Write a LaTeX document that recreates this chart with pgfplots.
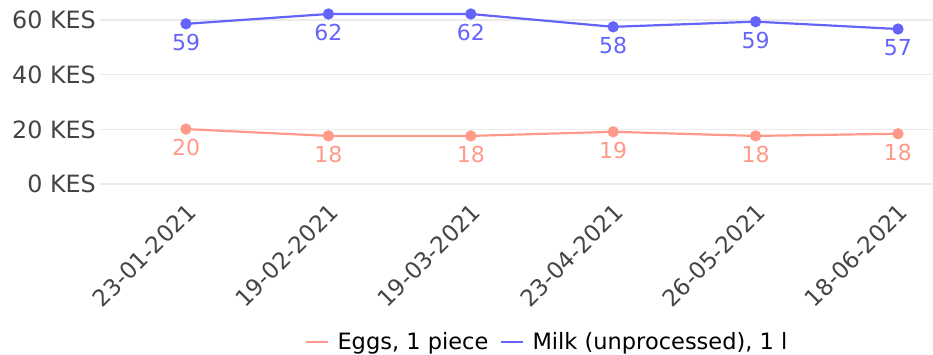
\documentclass[border=0pt]{standalone}
\usepackage{pgfplots}
\pgfplotsset{compat=1.18}
\usepackage{pgfplotstable}
\usepackage{fontspec}
\setmainfont{DejaVu Sans}
\definecolor{eggs}{RGB}{255,154,138}
\definecolor{milk}{RGB}{100,100,250}
\definecolor{tickc}{RGB}{68,68,68}
\definecolor{gridgray}{RGB}{235,235,235}
\pgfplotstableread{
x y lab
0 20.1 20
1 17.6 18
2 17.6 18
3 19.1 19
4 17.6 18
5 18.4 18
}\eggs
\pgfplotstableread{
x y lab
0 58.6 59
1 62.2 62
2 62.2 62
3 57.5 58
4 59.4 59
5 56.7 57
}\milk
\begin{document}
\begin{tikzpicture}[x=1pt,y=1pt]
\begin{axis}[
  at={(100pt,165.5pt)}, anchor=south west,
  scale only axis, width=833pt, height=185.9pt,
  xmin=-0.604, xmax=5.246, ymin=-2, ymax=66,
  axis line style={draw=none},
  major tick length=0pt, tick style={draw=none},
  ytick={0,20,40,60},
  yticklabels={0 KES,20 KES,40 KES,60 KES},
  yticklabel style={font=\fontsize{23.8}{28}\selectfont, text=tickc, inner sep=0pt, xshift=-4pt},
  xtick={0,1,2,3,4,5},
  xticklabels={23-01-2021,19-02-2021,19-03-2021,23-04-2021,26-05-2021,18-06-2021},
  xticklabel style={font=\fontsize{23}{27}\selectfont, text=tickc, rotate=45, anchor=north east, inner sep=1pt, xshift=-8pt, yshift=-7pt},
  ymajorgrids, xmajorgrids=false,
  major grid style={draw=gridgray, line width=1.3pt},
  legend columns=2,
  legend style={draw=none, fill=none, at={(0.537,-0.82)}, anchor=center,
    font=\fontsize{22.5}{26}\selectfont, text=black,
    /tikz/every odd column/.append style={column sep=6pt},
    /tikz/every even column/.append style={column sep=10pt}},
  legend image code/.code={\draw[#1, line width=2.2pt] (0pt,0pt) -- (22pt,0pt);},
  nodes near coords, point meta=explicit symbolic,
  every node near coord/.append style={font=\fontsize{22}{26}\selectfont, anchor=north, inner sep=0pt, yshift=-9pt},
]
\addplot[eggs, line width=2.2pt, mark=*, mark size=4.5pt, mark options={draw=eggs, fill=eggs},
  every node near coord/.append style={text=eggs}] table[x=x, y=y, meta=lab] {\eggs};
\addlegendentry{Eggs, 1 piece}
\addplot[milk, line width=2.2pt, mark=*, mark size=4.5pt, mark options={draw=milk, fill=milk},
  every node near coord/.append style={text=milk}] table[x=x, y=y, meta=lab] {\milk};
\addlegendentry{Milk (unprocessed), 1 l}
\end{axis}
\pgfresetboundingbox
\path (0,0) rectangle (933,355);
\end{tikzpicture}
\end{document}
